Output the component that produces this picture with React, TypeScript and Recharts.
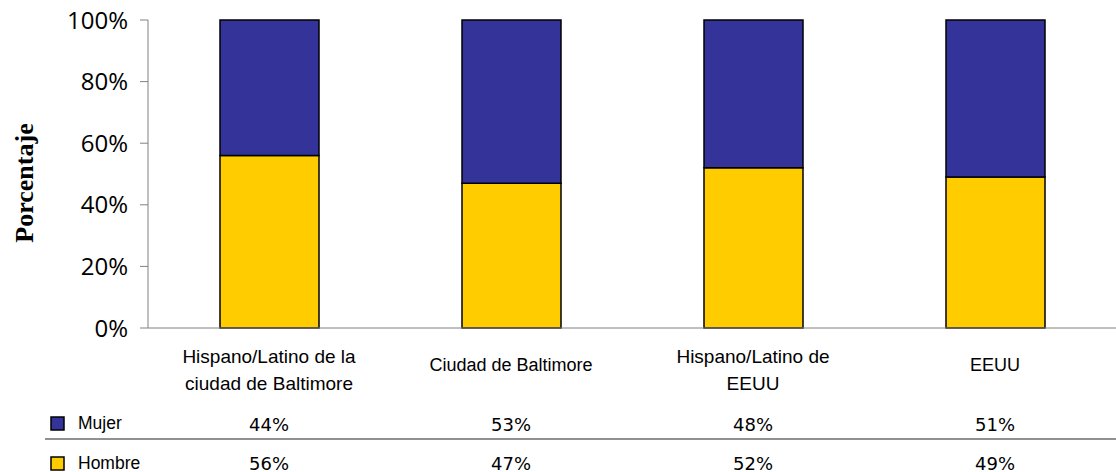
import { Bar, BarChart, XAxis, YAxis } from "recharts"

const categories = [
    "Hispano/Latino de la ciudad de Baltimore",
    "Ciudad de Baltimore",
    "Hispano/Latino de EEUU",
    "EEUU",
]
// how each category label wraps under the axis
const categoryLines = [
    ["Hispano/Latino de la", "ciudad de Baltimore"],
    ["Ciudad de Baltimore"],
    ["Hispano/Latino de", "EEUU"],
    ["EEUU"],
]
const mujer = [44, 53, 48, 51]
const hombre = [56, 47, 52, 49]
const yTicks = [0, 20, 40, 60, 80, 100]

const BLUE = "#333399"
const YELLOW = "#FFCC00"

const chartData = categories.map((name, i) => ({ name, Hombre: hombre[i], Mujer: mujer[i] }))

function CategoryTick(props: any) {
    const { x, payload } = props
    const i = payload.index
    const lines = categoryLines[i]
    const base = 328
    return (
        <g>
            {lines.length === 1 ? (
                <text x={x} y={base + 37} textAnchor="middle" dominantBaseline="central"
                    fontFamily="Liberation Sans, Arial" fontSize={18} fill="#000">
                    {lines[0]}
                </text>
            ) : (
                lines.map((l, k) => (
                    <text key={k} x={x} y={base + 28 + k * 27} textAnchor="middle" dominantBaseline="central"
                        fontFamily="Liberation Sans, Arial" fontSize={19} fill="#000">
                        {l}
                    </text>
                ))
            )}
            <text x={x} y={base + 96} textAnchor="middle" dominantBaseline="central"
                fontFamily="DejaVu Sans" fontSize={18} fill="#000">
                {mujer[i]}%
            </text>
            <text x={x} y={base + 135} textAnchor="middle" dominantBaseline="central"
                fontFamily="DejaVu Sans" fontSize={18} fill="#000">
                {hombre[i]}%
            </text>
        </g>
    )
}

export default function App() {
    return (
        <div style={{ position: "fixed", left: 0, top: 0, width: 1116, height: 472, background: "#fff" }}>
            <BarChart
                width={1116}
                height={472}
                data={chartData}
                margin={{ top: 20, right: 0, left: 0, bottom: 0 }}
                barCategoryGap={0}
            >
                <XAxis
                    dataKey="name"
                    stroke="#808080"
                    tickLine={false}
                    height={144}
                    interval={0}
                    tick={<CategoryTick />}
                />
                <YAxis
                    width={148}
                    domain={[0, 100]}
                    ticks={yTicks}
                    stroke="#808080"
                    tickSize={8}
                    tickMargin={12}
                    tick={{ fill: "#000", fontSize: 24, fontFamily: "Open Sans" }}
                    tickFormatter={(value) => `${value}%`}
                />
                <Bar dataKey="Hombre" stackId="a" fill={YELLOW} stroke="#000" strokeWidth={1.5} barSize={99} isAnimationActive={false} />
                <Bar dataKey="Mujer" stackId="a" fill={BLUE} stroke="#000" strokeWidth={1.5} barSize={99} isAnimationActive={false} />
            </BarChart>
            <svg width={1116} height={472} style={{ position: "absolute", left: 0, top: 0, pointerEvents: "none" }}>
                <text
                    transform="translate(24,183) rotate(-90)"
                    textAnchor="middle"
                    dominantBaseline="central"
                    fontFamily="Liberation Serif, Times New Roman"
                    fontWeight="bold"
                    fontSize={26}
                    fill="#000"
                >
                    Porcentaje
                </text>
                <line x1={45} x2={1116} y1={439} y2={439} stroke="#222" strokeWidth={1.2} />
                <rect x={51} y={417} width={13} height={13} fill={BLUE} stroke="#000" strokeWidth={1.5} />
                <text x={78} y={423} dominantBaseline="central" fontFamily="Liberation Sans, Arial" fontSize={17.5} fill="#000">Mujer</text>
                <rect x={51} y={457} width={13} height={13} fill={YELLOW} stroke="#000" strokeWidth={1.5} />
                <text x={78} y={463} dominantBaseline="central" fontFamily="Liberation Sans, Arial" fontSize={17.5} fill="#000">Hombre</text>
            </svg>
        </div>
    )
}
